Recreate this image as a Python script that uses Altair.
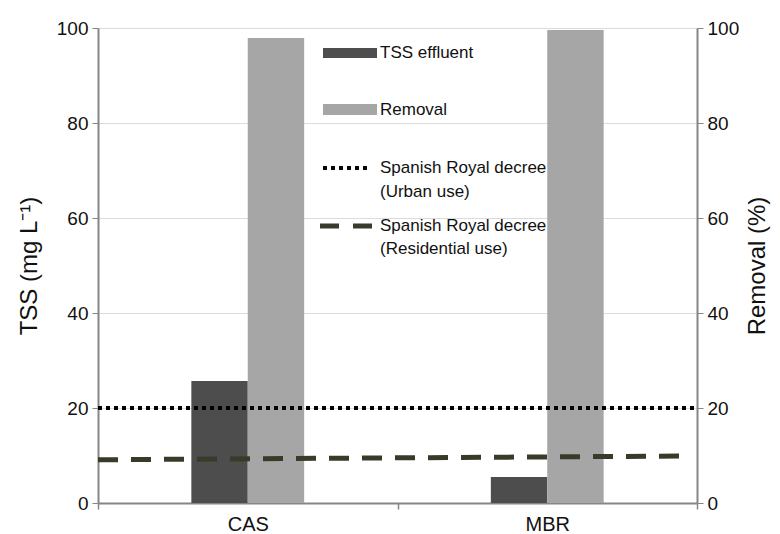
import altair as alt
import pandas as pd

categories = ["CAS", "MBR"]
series_names = ["TSS effluent", "Removal"]
tss_effluent = [25.7, 5.5]
removal = [97.9, 99.6]
urban_limit = [20, 20]          # start, end (mg/L)
residential_limit = [9.1, 9.9]  # start, end (mg/L)

W, H = 599, 475
FONT = "Liberation Sans"
DARK = "#4d4d4d"
LIGHT = "#a6a6a6"
FRAME = "#868686"

bars = pd.DataFrame({
    "category": categories * 2,
    "series": [series_names[0]] * 2 + [series_names[1]] * 2,
    "value": tss_effluent + removal,
})

x_enc = alt.X("category:N", sort=categories,
              scale=alt.Scale(paddingInner=0, paddingOuter=0),
              axis=alt.Axis(title=None, labelAngle=0, tickBand="extent",
                            labelFont=FONT, labelFontSize=20, labelColor="#111",
                            labelPadding=5, tickSize=6, tickColor=FRAME,
                            domainColor=FRAME, domainWidth=2, tickWidth=1.5))
xo_enc = alt.XOffset("series:N",
                     scale=alt.Scale(domain=["_l"] + series_names + ["_r"],
                                     paddingOuter=0.655, paddingInner=0))

tss_layer = alt.Chart(bars).transform_filter(
    alt.datum.series == series_names[0]
).mark_bar(color=DARK).encode(
    x=x_enc, xOffset=xo_enc,
    y=alt.Y("value:Q", scale=alt.Scale(domain=[0, 100], nice=False),
            axis=alt.Axis(title="TSS (mg L\u207b\u00b9)", values=[0, 20, 40, 60, 80, 100],
                          grid=True, gridColor="#dcdcdc", gridWidth=1,
                          labelFont=FONT, labelFontSize=19, labelColor="#111",
                          titleFont=FONT, titleFontSize=24, titleFontWeight="normal",
                          titleColor="#111", titlePadding=15, labelPadding=4,
                          tickSize=6, tickColor=FRAME, domainColor=FRAME, domainWidth=2)),
)

rem_layer = alt.Chart(bars).transform_filter(
    alt.datum.series == series_names[1]
).mark_bar(color=LIGHT).encode(
    x=x_enc, xOffset=xo_enc,
    y=alt.Y("value:Q", scale=alt.Scale(domain=[0, 100], nice=False),
            axis=alt.Axis(title="Removal (%)", orient="right", values=[0, 20, 40, 60, 80, 100],
                          grid=False, labelFont=FONT, labelFontSize=19, labelColor="#111",
                          titleFont=FONT, titleFontSize=24, titleFontWeight="normal",
                          titleColor="#111", titlePadding=7, labelPadding=4,
                          titleAngle=270, titleBaseline="top",
                          tickSize=6, tickColor=FRAME, domainColor=FRAME, domainWidth=2)),
)

lim_y = alt.Scale(domain=[0, 100], nice=False)
urban = alt.Chart(pd.DataFrame({"a": [urban_limit[0]], "b": [urban_limit[1]]})).mark_rule(
    color="#000", strokeWidth=4, strokeDash=[4, 4]
).encode(x=alt.value(0), x2=alt.value(W),
         y=alt.Y("a:Q", scale=lim_y, axis=None), y2="b:Q")
resid = alt.Chart(pd.DataFrame({"a": [residential_limit[0]], "b": [residential_limit[1]]})).mark_rule(
    color="#3a3a2a", strokeWidth=5, strokeDash=[20, 13]
).encode(x=alt.value(0), x2=alt.value(W - 8),
         y=alt.Y("a:Q", scale=lim_y, axis=None), y2="b:Q")

# legend (manual)
one = pd.DataFrame({"k": [0]})
def txt(label, px, py):
    return alt.Chart(pd.DataFrame({"t": [label]})).mark_text(
        align="left", baseline="middle", font=FONT, fontSize=17, color="#111"
    ).encode(x=alt.value(px), y=alt.value(py), text="t:N")

leg_tss = alt.Chart(one).mark_rect(color=DARK).encode(
    x=alt.value(225), x2=alt.value(279), y=alt.value(20), y2=alt.value(30))
leg_rem = alt.Chart(one).mark_rect(color=LIGHT).encode(
    x=alt.value(225), x2=alt.value(279), y=alt.value(76), y2=alt.value(87))
leg_urb = alt.Chart(one).mark_rule(color="#000", strokeWidth=4, strokeDash=[4, 4]).encode(
    x=alt.value(225), x2=alt.value(273), y=alt.value(140))
leg_res = alt.Chart(one).mark_rule(color="#3a3a2a", strokeWidth=5, strokeDash=[19, 14]).encode(
    x=alt.value(222), x2=alt.value(274), y=alt.value(198))

chart = alt.layer(
    tss_layer, rem_layer, urban, resid,
    leg_tss, leg_rem, leg_urb, leg_res,
    txt("TSS effluent", 282, 25), txt("Removal", 282, 82),
    txt("Spanish Royal decree", 282, 140), txt("(Urban use)", 282, 164),
    txt("Spanish Royal decree", 282, 198), txt("(Residential use)", 282, 221),
).resolve_scale(y="independent").properties(
    width=W, height=H,
    padding={"left": 90, "top": 20, "right": 75, "bottom": 31},
    autosize=alt.AutoSizeParams(type="none"),
).configure_view(stroke=FRAME, strokeWidth=2).configure(background="white")

chart.save("out.html", embed_options={"renderer": "svg", "actions": False})
